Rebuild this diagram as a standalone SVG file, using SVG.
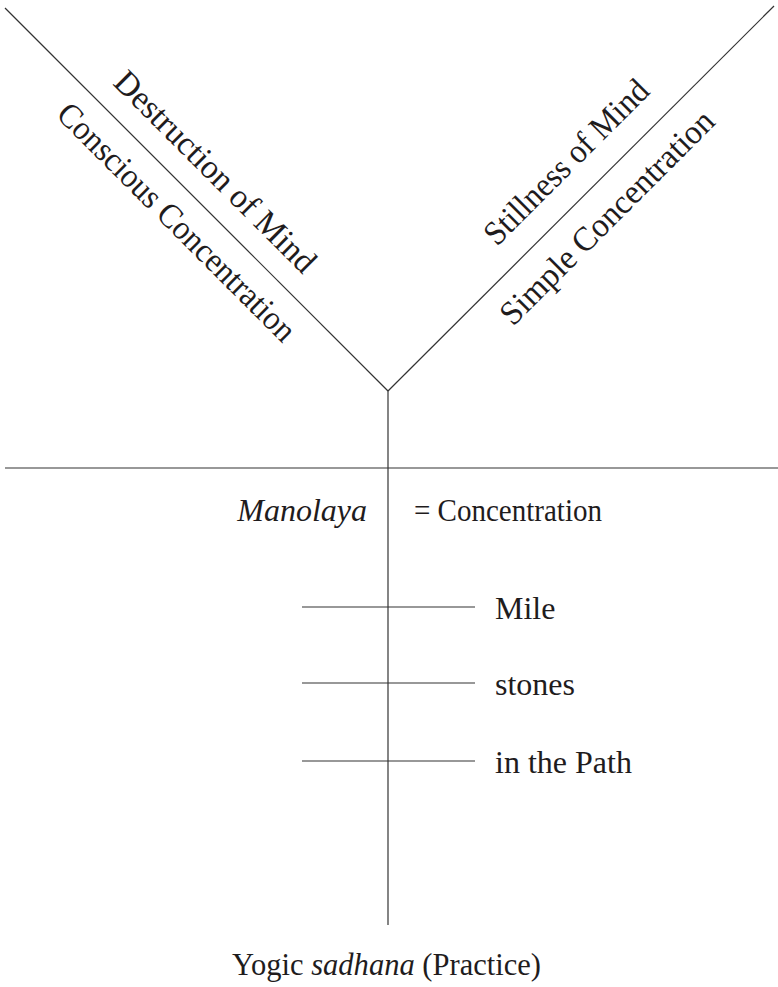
<svg xmlns="http://www.w3.org/2000/svg" width="778" height="987" viewBox="0 0 778 987">
<style>
  .ln { stroke:#333; stroke-width:1.2; fill:none; }
  .t { font-family:"Liberation Serif","Times New Roman",serif; font-size:32px; fill:#1f1c1d; }
  .d { font-size:34px; }
  .i { font-style:italic; }
</style>
<rect width="778" height="987" fill="#fff"/>
<g id="connectors">
  <line class="ln" x1="5" y1="8" x2="388" y2="391"/>
  <line class="ln" x1="774" y1="6" x2="388" y2="391"/>
  <line class="ln" x1="388" y1="391" x2="388" y2="925"/>
  <line class="ln" x1="5" y1="468" x2="778" y2="468"/>
  <line class="ln" x1="302" y1="607" x2="475" y2="607"/>
  <line class="ln" x1="302" y1="683" x2="475" y2="683"/>
  <line class="ln" x1="302" y1="761" x2="475" y2="761"/>
</g>
<g id="destruction"><text class="t d" transform="translate(112,84) rotate(45)" textLength="270" lengthAdjust="spacingAndGlyphs">Destruction of Mind</text></g>
<g id="conscious"><text class="t d" transform="translate(55,116) rotate(45)" textLength="322" lengthAdjust="spacingAndGlyphs">Conscious Concentration</text></g>
<g id="stillness"><text class="t d" transform="translate(497,247) rotate(-45)" textLength="218" lengthAdjust="spacingAndGlyphs">Stillness of Mind</text></g>
<g id="simple"><text class="t d" transform="translate(513,327) rotate(-45)" textLength="288" lengthAdjust="spacingAndGlyphs">Simple Concentration</text></g>
<g id="manolaya"><text class="t i" x="367" y="521" text-anchor="end">Manolaya</text></g>
<g id="concentration"><text class="t" x="414" y="521" font-size="33" textLength="188" lengthAdjust="spacingAndGlyphs">= Concentration</text></g>
<g id="mile"><text class="t" x="495" y="619">Mile</text></g>
<g id="stones"><text class="t" x="495" y="695">stones</text></g>
<g id="path"><text class="t" x="495" y="773">in the Path</text></g>
<g id="practice"><text class="t" x="232" y="975" textLength="309" lengthAdjust="spacingAndGlyphs">Yogic <tspan class="i">sadhana</tspan> (Practice)</text></g>
</svg>
